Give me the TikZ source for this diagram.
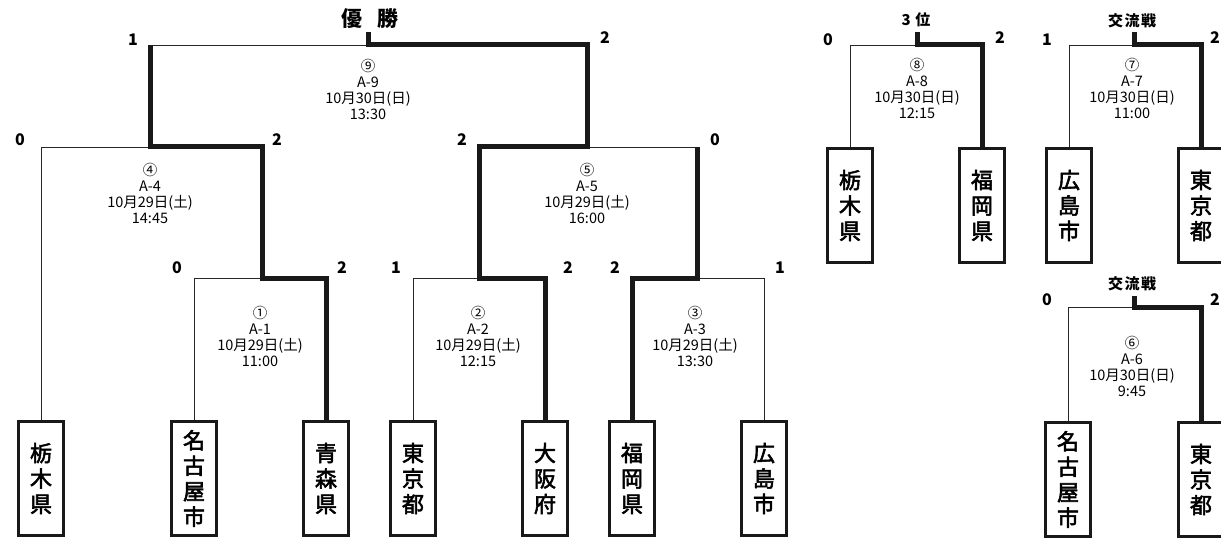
\documentclass[tikz,border=0pt]{standalone}
\usepackage{fontspec}
\setmainfont{Noto Sans CJK JP}
\newfontfamily\teamfont{Noto Sans CJK JP}[FakeBold=2.5]
\begin{document}
\begin{tikzpicture}[x=1pt,y=-1pt,
  team/.style={draw=black!90, line width=2.2pt, minimum width=45pt, minimum height=114pt,
    inner sep=0pt, align=center, font=\teamfont\fontsize{22}{25.5}\selectfont},
  thinline/.style={draw=black!85, line width=0.9pt, line join=miter},
  winline/.style={draw=black!90, line width=5pt, line join=miter},
  score/.style={font=\bfseries\fontsize{16}{16}\selectfont},
  title/.style={font=\bfseries\fontsize{21}{21}\selectfont},
  subtitle/.style={font=\bfseries\fontsize{15}{15}\selectfont},
  info/.style={align=center, inner sep=0pt, font=\fontsize{14.5}{16}\selectfont}]
\useasboundingbox (0,0) rectangle (1221,540);
% ---- main bracket teams
\node[team] (t1) at (41,478.5) {栃\\木\\県};
\node[team] (t2) at (194,478.5) {名\\古\\屋\\市};
\node[team] (t3) at (326,478.5) {青\\森\\県};
\node[team] (t4) at (413,478.5) {東\\京\\都};
\node[team] (t5) at (545,478.5) {大\\阪\\府};
\node[team] (t6) at (632,478.5) {福\\岡\\県};
\node[team] (t7) at (764,478.5) {広\\島\\市};
% ---- junctions
\coordinate (j1) at (262,278);
\coordinate (j2) at (479,278);
\coordinate (j3) at (697,278);
\coordinate (j4) at (150,147);
\coordinate (j5) at (587,147);
\coordinate (j9) at (368,45);
\coordinate (top9) at (368,32);
% ---- thin lines
\draw[thinline] (t1.north) |- (j4);
\draw[thinline] (t2.north) |- (j1);
\draw[thinline] (t4.north) |- (j2);
\draw[thinline] (t7.north) |- (j3);
\draw[thinline] (j3 |- j5) -- (j5);
\draw[thinline] (j4 |- j9) -- (j9);
% ---- winner lines
\draw[winline] (t3.north) |- (j1) -- (j1 |- j4) -- (j4) -- (j4 |- j9);
\draw[winline] (t5.north) |- (j2) -- (j2 |- j5) -- (j5) -- (j5 |- j9) -- (j9) -- (top9);
\draw[winline] (t6.north) |- (j3) -- (j3 |- j5);
% ---- labels
\node[title] (ttl) at (370,19) {優\hspace{0.7em}勝};
\node[score] at (133,40) {1};
\node[score] at (605,38) {2};
\node[score] at (20,140) {0};
\node[score] at (277,140) {2};
\node[score] at (462,140) {2};
\node[score] at (715,140) {0};
\node[score] at (177,268) {0};
\node[score] at (342,268) {2};
\node[score] at (396,268) {1};
\node[score] at (568,268) {2};
\node[score] at (615,268) {2};
\node[score] at (780,268) {1};
\node[info] (i9) at (368,89) {⑨\\A-9\\10月30日(日)\\13:30};
\node[info] (i4) at (150,193) {④\\A-4\\10月29日(土)\\14:45};
\node[info] (i5) at (587,193) {⑤\\A-5\\10月29日(土)\\16:00};
\node[info] (i1) at (260,336) {①\\A-1\\10月29日(土)\\11:00};
\node[info] (i2) at (478,336) {②\\A-2\\10月29日(土)\\12:15};
\node[info] (i3) at (695,336) {③\\A-3\\10月29日(土)\\13:30};
% ---- 3rd place
\node[team] (b1) at (850,205.5) {栃\\木\\県};
\node[team] (b2) at (982,205.5) {福\\岡\\県};
\coordinate (j8) at (917,45);
\coordinate (top8) at (917,32);
\draw[thinline] (b1.north) |- (j8);
\draw[winline] (b2.north) |- (j8) -- (top8);
\node[subtitle] at (916,20) {3\hspace{0.3em}位};
\node[score] at (828,40) {0};
\node[score] at (1000,38) {2};
\node[info] (i8) at (917,88) {⑧\\A-8\\10月30日(日)\\12:15};
% ---- exchange 7
\node[team] (c1) at (1069,205.5) {広\\島\\市};
\node[team] (c2) at (1201,205.5) {東\\京\\都};
\coordinate (j7) at (1134,45);
\coordinate (top7) at (1134,32);
\draw[thinline] (c1.north) |- (j7);
\draw[winline] (c2.north) |- (j7) -- (top7);
\node[subtitle] at (1132,21) {交\hspace{0.1em}流\hspace{0.1em}戦};
\node[score] at (1047,40) {1};
\node[score] at (1215,38) {2};
\node[info] (i7) at (1132,88) {⑦\\A-7\\10月30日(日)\\11:00};
% ---- exchange 6
\node[team] (d1) at (1068,479.5) {名\\古\\屋\\市};
\node[team] (d2) at (1201,479.5) {東\\京\\都};
\coordinate (j6) at (1134,307);
\coordinate (top6) at (1134,296);
\draw[thinline] (d1.north) |- (j6);
\draw[winline] (d2.north) |- (j6) -- (top6);
\node[subtitle] at (1132,284) {交\hspace{0.1em}流\hspace{0.1em}戦};
\node[score] at (1047,300) {0};
\node[score] at (1215,300) {2};
\node[info] (i6) at (1132,366) {⑥\\A-6\\10月30日(日)\\9:45};
\end{tikzpicture}
\end{document}
